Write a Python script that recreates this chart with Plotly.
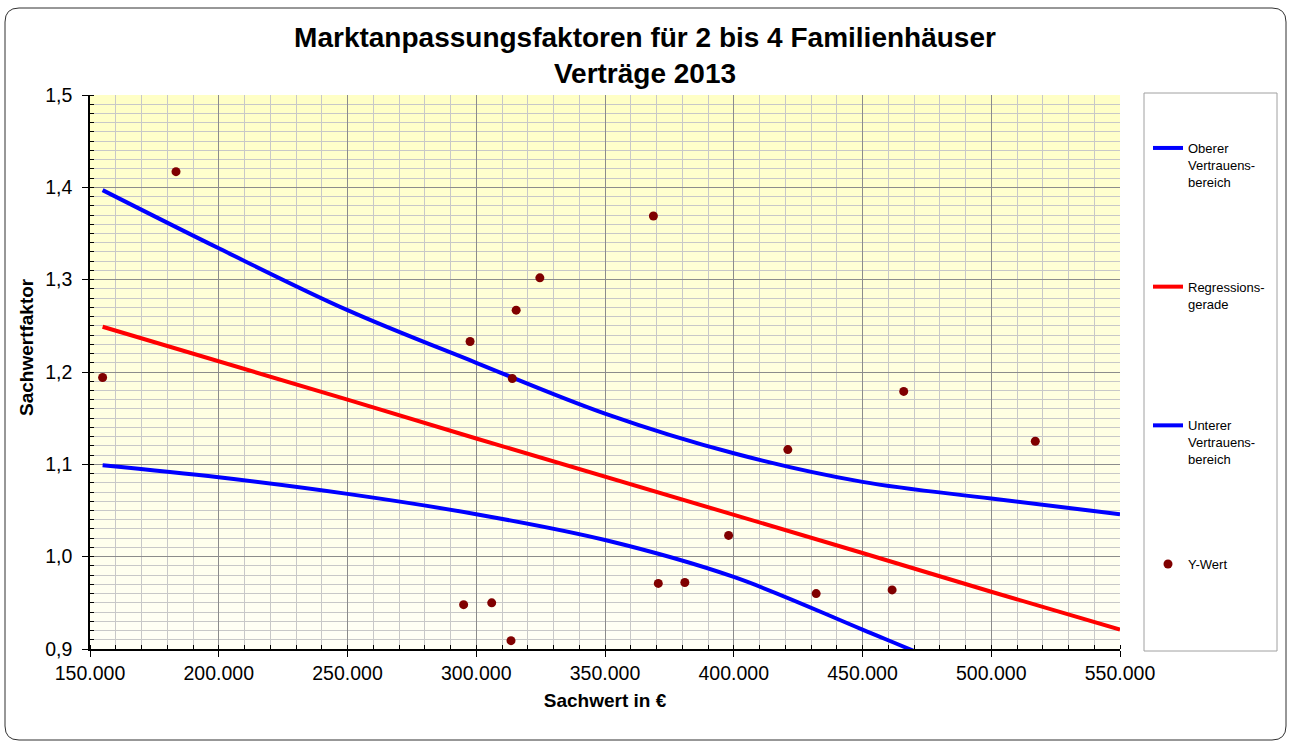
import plotly.graph_objects as go

# ---------------- data ----------------
sachwert = [154900, 183400, 295100, 297600, 306000, 313500, 314000, 315500, 324700,
            368800, 370700, 381000, 398000, 421000, 432000, 461500, 466000, 517100]
faktor = [1.194, 1.417, 0.948, 1.233, 0.950, 0.909, 1.193, 1.267, 1.302,
          1.369, 0.971, 0.972, 1.023, 1.116, 0.960, 0.964, 1.179, 1.125]

curve_x = [154900, 200000, 250000, 300000, 350000, 400000, 450000, 500000, 550000]
oberer = [1.397, 1.334, 1.267, 1.210, 1.155, 1.112, 1.081, 1.063, 1.046]
regression = [1.249, 1.211, 1.170, 1.128, 1.087, 1.045, 1.004, 0.962, 0.921]
unterer = [1.099, 1.086, 1.068, 1.046, 1.018, 0.978, 0.921, 0.862, 0.796]

title_lines = ["Marktanpassungsfaktoren für 2 bis 4 Familienhäuser", "Verträge 2013"]
x_title = "Sachwert in €"
y_title = "Sachwertfaktor"
legend_names = ["Oberer<br>Vertrauens-<br>bereich", "Regressions-<br>gerade<br> ",
                "Unterer<br>Vertrauens-<br>bereich", "Y-Wert"]

# ---------------- layout geometry ----------------
W, H = 1290, 744
L, R, T, B = 90, 170, 95, 95
PW, PH = W - L - R, H - T - B

def px(xpix):
    return (xpix - L) / PW

def py(ypix):
    return (H - B - ypix) / PH

FONT = "Liberation Sans, Arial, sans-serif"

fig = go.Figure()
fig.add_trace(go.Scatter(x=curve_x, y=oberer, mode="lines", name=legend_names[0],
                         legendgroup="a", line=dict(color="#0000FF", width=4, shape="spline", smoothing=1.0)))
fig.add_trace(go.Scatter(x=curve_x, y=regression, mode="lines", name=legend_names[1],
                         legendgroup="b", line=dict(color="#FF0000", width=4)))
fig.add_trace(go.Scatter(x=curve_x, y=unterer, mode="lines", name=legend_names[2],
                         legendgroup="c", line=dict(color="#0000FF", width=4, shape="spline", smoothing=1.0)))
fig.add_trace(go.Scatter(x=sachwert, y=faktor, mode="markers", name=legend_names[3],
                         legendgroup="d", marker=dict(color="#800000", size=9, line=dict(width=0)),
                         cliponaxis=True))

shapes = []
# vertical gradient background of the plot area
N = 60
top_c = (255, 255, 198)
bot_c = (255, 255, 246)
for i in range(N):
    t = (i + 0.5) / N
    c = tuple(round(top_c[k] + (bot_c[k] - top_c[k]) * t) for k in range(3))
    shapes.append(dict(type="rect", xref="x domain", yref="y domain",
                       x0=0, x1=1, y0=1 - (i + 1) / N - 0.002, y1=1 - i / N,
                       fillcolor="rgb(%d,%d,%d)" % c, line=dict(width=0), layer="below"))

# legend box
shapes.append(dict(type="rect", xref="paper", yref="paper",
                   x0=px(1144), x1=px(1277), y0=py(651), y1=py(93),
                   line=dict(color="#A0A0A0", width=1), fillcolor="rgba(0,0,0,0)", layer="above"))

# outer rounded border
x0, x1, y0, y1 = px(5), px(1286), py(740), py(8)
rx, ry = 14 / PW, 14 / PH
path = (f"M{x0+rx},{y1} L{x1-rx},{y1} Q{x1},{y1} {x1},{y1-ry} L{x1},{y0+ry} "
        f"Q{x1},{y0} {x1-rx},{y0} L{x0+rx},{y0} Q{x0},{y0} {x0},{y0+ry} "
        f"L{x0},{y1-ry} Q{x0},{y1} {x0+rx},{y1} Z")
shapes.append(dict(type="path", xref="paper", yref="paper", path=path,
                   line=dict(color="#303030", width=1), layer="above"))

fig.update_layout(
    width=W, height=H,
    margin=dict(l=L, r=R, t=T, b=B, autoexpand=False),
    paper_bgcolor="white",
    plot_bgcolor="#FFFFE0",
    separators=",.",
    font=dict(family=FONT, color="black"),
    title=dict(text="<b>" + title_lines[0] + "</b><br><b>" + title_lines[1] + "</b>",
               x=0.5, xref="container", xanchor="center",
               y=1 - 46.5 / H, yref="container", yanchor="middle",
               font=dict(size=28, family=FONT, color="black")),
    showlegend=True,
    legend=dict(x=px(1148), y=py(133), xanchor="left", yanchor="top",
                bgcolor="rgba(0,0,0,0)", borderwidth=0,
                font=dict(size=13, family=FONT, color="black"),
                valign="top", tracegroupgap=85, traceorder="grouped"),
    shapes=shapes,
    annotations=[dict(text="<b>" + y_title + "</b>", xref="paper", yref="paper",
                      x=px(26), y=py(347), textangle=-90, showarrow=False,
                      xanchor="center", yanchor="middle",
                      font=dict(size=19, family=FONT, color="black"))],
)

fig.update_xaxes(
    range=[150000, 550000], tick0=150000, dtick=50000, tickformat=",d",
    showline=True, linecolor="black", linewidth=1.5,
    ticks="outside", ticklen=6, tickcolor="black", tickwidth=1,
    tickfont=dict(size=19.5, family=FONT, color="black"),
    showgrid=True, gridcolor="#8C8C8C", gridwidth=1, zeroline=False,
    minor=dict(dtick=10000, tick0=150000, ticks="inside", ticklen=4, tickcolor="black",
               showgrid=True, gridcolor="#C8C8C8", gridwidth=1.2),
    title=dict(text="<b>" + x_title + "</b>", standoff=11,
               font=dict(size=19, family=FONT, color="black")),
)
fig.update_yaxes(
    range=[0.9, 1.5], tick0=0.9, dtick=0.1, tickformat=".1f",
    showline=True, linecolor="black", linewidth=1.5,
    ticks="outside", ticklen=6, tickcolor="black", tickwidth=1,
    ticklabelstandoff=6,
    tickfont=dict(size=19.5, family=FONT, color="black"),
    showgrid=True, gridcolor="#8C8C8C", gridwidth=1, zeroline=False,
    minor=dict(dtick=0.01, tick0=0.9, ticks="inside", ticklen=4, tickcolor="black",
               showgrid=True, gridcolor="#C8C8C8", gridwidth=1),
)

fig.write_html("out.html", config={"displayModeBar": False},
               post_script="document.body.style.margin='0';")
